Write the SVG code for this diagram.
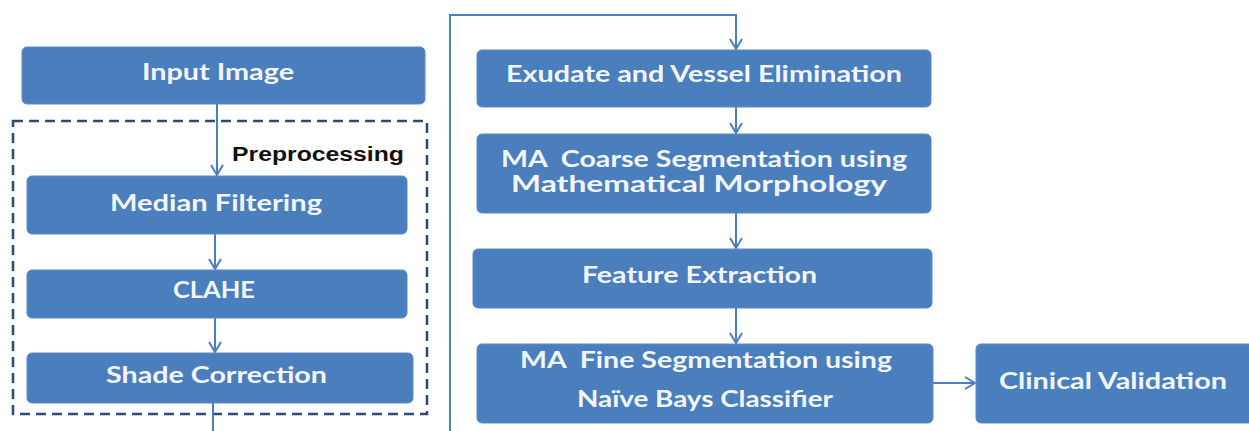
<svg xmlns="http://www.w3.org/2000/svg" width="1249" height="431" viewBox="0 0 1249 431">
<style>
.box{fill:#4a7ebd;stroke:#5a8bc6;stroke-width:1}
.t{font-family:Lato,"Open Sans","Liberation Sans",sans-serif;font-weight:bold;font-size:22px;fill:#f2f6fb;text-anchor:middle}
.c{fill:none;stroke:#4a7ebd;stroke-width:2}
</style>
<defs>
<marker id="ah" viewBox="0 0 12 14" refX="11" refY="7" markerWidth="12" markerHeight="14" markerUnits="userSpaceOnUse" orient="auto">
<path d="M1,1 L11,7 L1,13" fill="none" stroke="#4a7ebd" stroke-width="2"/>
</marker>
</defs>
<rect width="1249" height="431" fill="#ffffff"/>
<g id="preprocessing-group">
<rect x="13" y="121" width="414" height="293" fill="none" stroke="#2e4a76" stroke-width="2.5" stroke-dasharray="10,6"/>
<text x="232" y="161" textLength="172" lengthAdjust="spacingAndGlyphs" font-family="Liberation Sans,Arial,sans-serif" font-weight="bold" font-size="20" fill="#111">Preprocessing</text>
</g>
<g id="connectors">
<line class="c" x1="217" y1="104" x2="217" y2="175" marker-end="url(#ah)"/>
<line class="c" x1="215" y1="234" x2="215" y2="269" marker-end="url(#ah)"/>
<line class="c" x1="215" y1="318" x2="215" y2="352" marker-end="url(#ah)"/>
<line class="c" x1="213" y1="403" x2="213" y2="431"/>
<polyline class="c" points="450,431 450,15 736,15 736,49" marker-end="url(#ah)"/>
<line class="c" x1="736" y1="107" x2="736" y2="133" marker-end="url(#ah)"/>
<line class="c" x1="736" y1="213" x2="736" y2="248" marker-end="url(#ah)"/>
<line class="c" x1="736" y1="308" x2="736" y2="343" marker-end="url(#ah)"/>
<line class="c" x1="933" y1="383" x2="975" y2="383" marker-end="url(#ah)"/>
</g>
<g id="input-image">
<rect class="box" x="22" y="47" width="403" height="57" rx="5"/>
<text class="t" x="218" y="80" textLength="152" lengthAdjust="spacingAndGlyphs">Input Image</text>
</g>
<g id="median-filtering">
<rect class="box" x="27" y="176" width="380" height="58" rx="5"/>
<text class="t" x="216" y="211" textLength="212" lengthAdjust="spacingAndGlyphs">Median Filtering</text>
</g>
<g id="clahe">
<rect class="box" x="27" y="270" width="380" height="48" rx="5"/>
<text class="t" x="214" y="298" textLength="82" lengthAdjust="spacingAndGlyphs">CLAHE</text>
</g>
<g id="shade-correction">
<rect class="box" x="27" y="353" width="386" height="50" rx="5"/>
<text class="t" x="216.5" y="383" textLength="221" lengthAdjust="spacingAndGlyphs">Shade Correction</text>
</g>
<g id="exudate">
<rect class="box" x="477" y="50" width="454" height="57" rx="5"/>
<text class="t" x="704" y="82" textLength="396" lengthAdjust="spacingAndGlyphs">Exudate and Vessel Elimination</text>
</g>
<g id="coarse-seg">
<rect class="box" x="477" y="134" width="454" height="79" rx="5"/>
<text class="t" x="704" y="167" textLength="406" lengthAdjust="spacingAndGlyphs">MA&#160; Coarse Segmentation using</text>
<text class="t" x="699" y="192" textLength="376" lengthAdjust="spacingAndGlyphs">Mathematical Morphology</text>
</g>
<g id="feature-extraction">
<rect class="box" x="473" y="249" width="459" height="59" rx="5"/>
<text class="t" x="699.5" y="283" textLength="235" lengthAdjust="spacingAndGlyphs">Feature Extraction</text>
</g>
<g id="fine-seg">
<rect class="box" x="477" y="344" width="456" height="79" rx="5"/>
<text class="t" x="706" y="368" textLength="372" lengthAdjust="spacingAndGlyphs">MA&#160; Fine Segmentation using</text>
<text class="t" x="705" y="407" textLength="256" lengthAdjust="spacingAndGlyphs">Naïve Bays Classifier</text>
</g>
<g id="clinical-validation">
<rect class="box" x="976" y="344" width="278" height="79" rx="5"/>
<text class="t" x="1113" y="389" textLength="228" lengthAdjust="spacingAndGlyphs">Clinical Validation</text>
</g>
</svg>
